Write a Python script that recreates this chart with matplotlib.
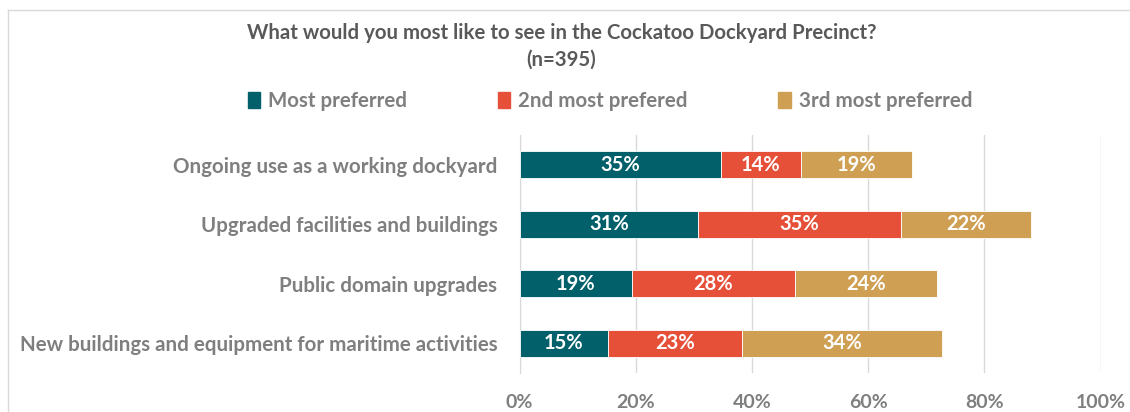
import matplotlib.pyplot as plt
from matplotlib.patches import Patch
import numpy as np

plt.rcParams['font.family'] = ['Lato', 'DejaVu Sans']

# survey results (percent of respondents)
categories = ['Ongoing use as a working dockyard',
              'Upgraded facilities and buildings',
              'Public domain upgrades',
              'New buildings and equipment for maritime activities']
most = [34.6, 30.8, 19.3, 15.3]
second = [13.9, 34.8, 28.1, 23.0]
third = [19.0, 22.4, 24.4, 34.4]
series_names = ['Most preferred', '2nd most prefered', '3rd most preferred']
colors = ['#02606B', '#E65039', '#CFA054']
xticks = [0, 20, 40, 60, 80, 100]

fig = plt.figure(figsize=(11.3, 4.12), dpi=100)
ax = fig.add_axes([519.5 / 1130, 1 - 373 / 412, 581 / 1130, 238 / 412])

y = np.arange(len(categories))
left = np.zeros(len(categories))
for vals, name, c in zip([most, second, third], series_names, colors):
    bars = ax.barh(y, vals, left=left, height=0.46, color=c, label=name,
                   edgecolor='white', linewidth=0.6, zorder=3)
    ax.bar_label(bars, labels=[f'{v:.0f}%' for v in vals], label_type='center',
                 color='white', fontsize=14.5, fontweight='bold')
    left = left + np.array(vals)

ax.set_xlim(0, 100)
ax.set_ylim(3.5, -0.5)
ax.set_xticks(xticks)
ax.set_xticklabels([f'{t}%' for t in xticks], fontsize=14, fontweight='bold', color='#7F7F7F')
ax.set_yticks(y)
ax.set_yticklabels(categories, fontsize=14.8, fontweight='bold', color='#7F7F7F')
ax.tick_params(length=0, pad=16, axis='y')
ax.tick_params(length=0, pad=15, axis='x')
ax.grid(axis='x', color='#D9D9D9', linewidth=1, zorder=0)
for s in ['top', 'right', 'bottom']:
    ax.spines[s].set_visible(False)
ax.spines['left'].set_color('#D9D9D9')

fig.text(0.497, 1 - 33 / 412, 'What would you most like to see in the Cockatoo Dockyard Precinct?',
         ha='center', va='center', fontsize=14.7, fontweight='bold', color='#595959')
fig.text(0.497, 1 - 60 / 412, '(n=395)', ha='center', va='center',
         fontsize=14.7, fontweight='bold', color='#595959')

handles = [Patch(color=c) for c in colors]
fig.legend(handles, series_names, loc='center', bbox_to_anchor=(0.54, 1 - 101 / 412), ncol=3,
           frameon=False, handlelength=0.6, handleheight=0.8, handletextpad=0.4,
           columnspacing=4.4, prop={'size': 14.8, 'weight': 'bold'}, labelcolor='#7F7F7F')

# chart border
fig.add_artist(plt.Line2D([8 / 1130, 1], [1 - 10 / 412, 1 - 10 / 412], color='#D9D9D9', lw=1))
fig.add_artist(plt.Line2D([8 / 1130, 8 / 1130], [0, 1 - 10 / 412], color='#D9D9D9', lw=1))

fig.savefig('out.png', dpi=100)
